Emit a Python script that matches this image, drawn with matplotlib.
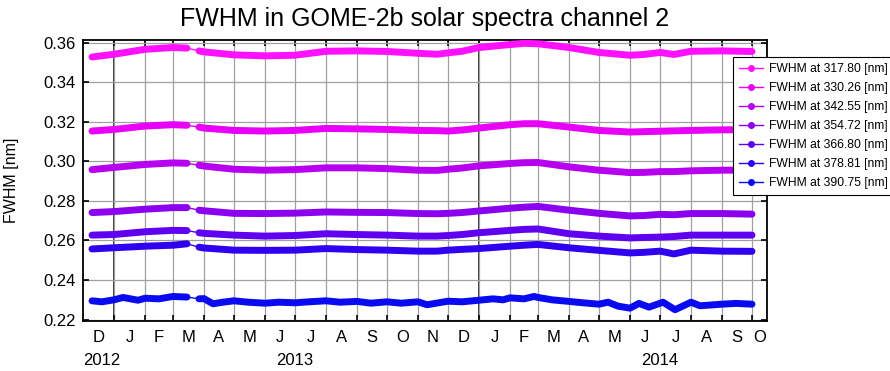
import numpy as np
import pandas as pd
import matplotlib
matplotlib.use("Agg")
import matplotlib.pyplot as plt
import matplotlib.transforms as mtransforms
from matplotlib.lines import Line2D

plt.rcParams['font.family'] = ['Liberation Sans', 'DejaVu Sans']

wavelengths = ["317.80", "330.26", "342.55", "354.72", "366.80", "378.81", "390.75"]
colors = ["#ff10ff", "#e800f8", "#b800f0", "#8c00f0", "#6000f0", "#3000f0", "#0a0af0"]

# dates for the first six channels
dates = ["2012-12-10", "2013-01-01", "2013-02-01", "2013-03-01", "2013-03-15",
         "2013-03-27", "2013-04-01", "2013-05-01", "2013-06-01", "2013-07-01",
         "2013-08-01", "2013-09-01", "2013-10-01", "2013-11-01", "2013-11-20",
         "2013-12-01", "2013-12-15", "2014-01-01", "2014-02-01", "2014-02-15",
         "2014-03-01", "2014-04-01", "2014-05-01", "2014-06-01", "2014-06-15",
         "2014-07-01", "2014-07-15", "2014-08-01", "2014-09-01", "2014-10-01"]

fwhm_317 = [0.3527, 0.3541, 0.3566, 0.3575, 0.3572,
            0.3558, 0.3553, 0.3538, 0.3533, 0.3536, 0.3556, 0.3558, 0.3555, 0.3546, 0.3541,
            0.3548, 0.3556, 0.3575, 0.3590, 0.3596, 0.3594, 0.3575, 0.3550, 0.3536, 0.3540,
            0.3550, 0.3540, 0.3556, 0.3558, 0.3555]
fwhm_330 = [0.3153, 0.3161, 0.3178, 0.3185, 0.3182,
            0.3173, 0.3168, 0.3156, 0.3153, 0.3156, 0.3166, 0.3164, 0.3161, 0.3156, 0.3155,
            0.3153, 0.3158, 0.3168, 0.3185, 0.3190, 0.3190, 0.3173, 0.3156, 0.3148, 0.3150,
            0.3152, 0.3154, 0.3156, 0.3159, 0.3160]
fwhm_342 = [0.2958, 0.2969, 0.2984, 0.2992, 0.2990,
            0.2980, 0.2976, 0.2960, 0.2955, 0.2958, 0.2967, 0.2967, 0.2963, 0.2955, 0.2954,
            0.2960, 0.2966, 0.2977, 0.2989, 0.2993, 0.2994, 0.2972, 0.2955, 0.2943, 0.2944,
            0.2948, 0.2948, 0.2952, 0.2955, 0.2956]
fwhm_354 = [0.2741, 0.2746, 0.2758, 0.2766, 0.2766,
            0.2753, 0.2750, 0.2737, 0.2736, 0.2738, 0.2744, 0.2742, 0.2741, 0.2736, 0.2735,
            0.2737, 0.2741, 0.2749, 0.2763, 0.2768, 0.2772, 0.2753, 0.2737, 0.2724, 0.2726,
            0.2732, 0.2730, 0.2736, 0.2736, 0.2733]
fwhm_366 = [0.2627, 0.2630, 0.2644, 0.2651, 0.2650,
            0.2639, 0.2636, 0.2627, 0.2622, 0.2625, 0.2634, 0.2630, 0.2627, 0.2622, 0.2622,
            0.2625, 0.2630, 0.2639, 0.2651, 0.2656, 0.2658, 0.2634, 0.2622, 0.2613, 0.2615,
            0.2617, 0.2620, 0.2627, 0.2627, 0.2627]
fwhm_378 = [0.2557, 0.2563, 0.2571, 0.2576, 0.2583,
            0.2566, 0.2562, 0.2551, 0.2550, 0.2551, 0.2559, 0.2554, 0.2551, 0.2546, 0.2546,
            0.2551, 0.2555, 0.2559, 0.2571, 0.2576, 0.2580, 0.2563, 0.2550, 0.2537, 0.2540,
            0.2546, 0.2532, 0.2551, 0.2546, 0.2545]

# the 390.75 channel is noisier, read at finer spacing
dates_390 = ["2012-12-10", "2012-12-20", "2013-01-01", "2013-01-10", "2013-01-25",
             "2013-02-01", "2013-02-15", "2013-03-01", "2013-03-15",
             "2013-03-27", "2013-04-01", "2013-04-10", "2013-04-20", "2013-05-01",
             "2013-05-15", "2013-06-01", "2013-06-15", "2013-07-01", "2013-07-15",
             "2013-08-01", "2013-08-15", "2013-09-01", "2013-09-15", "2013-10-01",
             "2013-10-15", "2013-11-01", "2013-11-10", "2013-11-25", "2013-12-01",
             "2013-12-15", "2014-01-01", "2014-01-15", "2014-01-25", "2014-02-01",
             "2014-02-15", "2014-02-25", "2014-03-01", "2014-03-15", "2014-04-01",
             "2014-04-15", "2014-05-01", "2014-05-10", "2014-05-20", "2014-06-01",
             "2014-06-10", "2014-06-20", "2014-07-04", "2014-07-16", "2014-08-01",
             "2014-08-10", "2014-09-01", "2014-09-15", "2014-10-01"]
fwhm_390 = [0.2295, 0.2290, 0.2300, 0.2312, 0.2298,
            0.2308, 0.2305, 0.2317, 0.2314,
            0.2305, 0.2306, 0.2280, 0.2288, 0.2295,
            0.2288, 0.2283, 0.2288, 0.2285, 0.2290,
            0.2295, 0.2288, 0.2292, 0.2283, 0.2290,
            0.2283, 0.2290, 0.2275, 0.2288, 0.2293,
            0.2290, 0.2298, 0.2305, 0.2300, 0.2310,
            0.2305, 0.2317, 0.2312, 0.2300, 0.2292,
            0.2285, 0.2278, 0.2288, 0.2268, 0.2258,
            0.2282, 0.2263, 0.2288, 0.2250, 0.2288,
            0.2270, 0.2278, 0.2282, 0.2278]

gap_after = "2013-03-20"
month_letters = ["J", "F", "M", "A", "M", "J", "J", "A", "S", "O", "N", "D"]
years = ["2012", "2013", "2014"]
year_label_dates = ["2012-12-20", "2013-07-01", "2014-07-01"]

series = [(dates, fwhm_317), (dates, fwhm_330), (dates, fwhm_342), (dates, fwhm_354),
          (dates, fwhm_366), (dates, fwhm_378), (dates_390, fwhm_390)]

xmin = pd.Timestamp("2012-12-01")
xmax = pd.Timestamp("2014-10-16")

fig = plt.figure(figsize=(8.9, 3.71), dpi=100)
ax = fig.add_axes([83 / 890, 1 - 321 / 371, 684 / 890, 281 / 371])

gap = pd.Timestamp(gap_after)
for (d, v), c in zip(series, colors):
    d = pd.to_datetime(d)
    v = np.array(v)
    ax.plot(d, v, color=c, lw=1, zorder=3)
    for m in [d <= gap, d > gap]:
        ax.plot(d[m], v[m], color=c, lw=5, solid_capstyle='round',
                solid_joinstyle='round', zorder=3)

ax.set_xlim(xmin, xmax)
ax.set_ylim(0.2193, 0.3613)
ax.set_yticks(np.arange(0.22, 0.361, 0.02))
ax.yaxis.set_major_formatter(matplotlib.ticker.FormatStrFormatter('%.2f'))

month_starts = pd.date_range("2013-01-01", "2014-10-01", freq="MS")
ax.set_xticks(month_starts)
ax.set_xticklabels([])
# month letters at the middle of each visible month
edges = [xmin] + list(month_starts) + [xmax]
mids = [a + (b - a) / 2 for a, b in zip(edges[:-1], edges[1:])]
ax.set_xticks(mids, minor=True)
ax.set_xticklabels([month_letters[m.month - 1] for m in mids], minor=True)

ax.grid(True, which='major', color='#a0a0a0', lw=0.9, zorder=0)
for y in ["2013-01-01", "2014-01-01"]:
    ax.axvline(pd.Timestamp(y), color='black', lw=1.1, zorder=1)

ax.tick_params(axis='both', which='major', direction='in', length=4, width=1.2,
               top=True, right=True, labelsize=12)
ax.tick_params(axis='x', which='minor', length=0, labelsize=12, pad=6.5)
ax.tick_params(axis='y', which='major', pad=5)
for s in ax.spines.values():
    s.set_linewidth(1.3)

trans = mtransforms.blended_transform_factory(ax.transData, ax.transAxes)
for yr, d in zip(years, year_label_dates):
    ax.text(pd.Timestamp(d), -0.139, yr, transform=trans, ha='center', va='center',
            fontsize=12)

ax.set_ylabel("FWHM [nm]", fontsize=11.5)
ax.yaxis.set_label_coords(-0.093, 0.5)
fig.text(425 / 890, 1 - 19 / 371, "FWHM in GOME-2b solar spectra channel 2",
         ha='center', va='center', fontsize=18)

handles = [Line2D([], [], color=c, lw=1, marker='o', ms=4) for c in colors]
labels = ["FWHM at {} [nm]".format(w) for w in wavelengths]
leg = fig.legend(handles, labels, loc='upper left',
                 bbox_to_anchor=(733 / 890, 1 - 57 / 371), borderaxespad=0,
                 fontsize=8.7, frameon=True, fancybox=False, framealpha=1,
                 edgecolor='black', labelspacing=0.58, handlelength=2.0,
                 handletextpad=0.5, borderpad=0.5)
leg.get_frame().set_linewidth(0.8)

fig.savefig("out.png", dpi=100)
